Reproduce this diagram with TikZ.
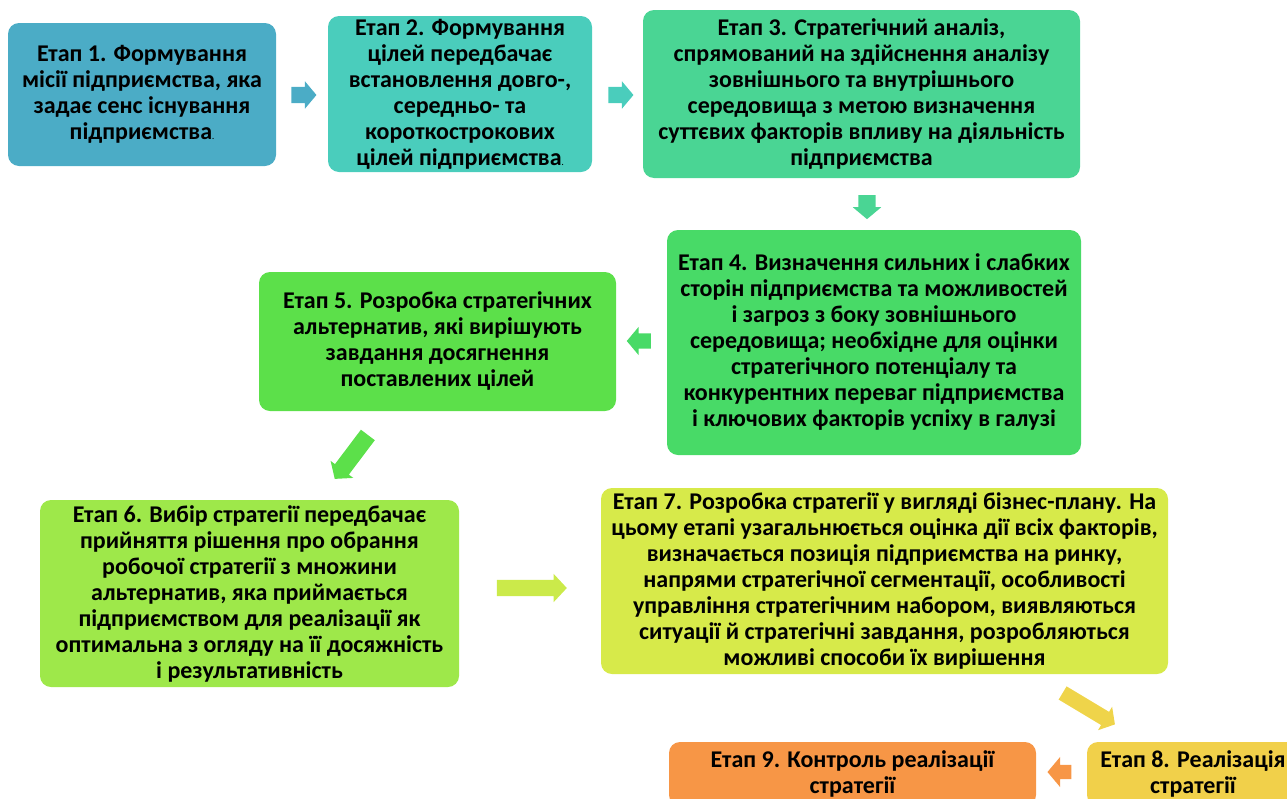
\documentclass[tikz,border=0pt]{standalone}
\usepackage{fontspec}
\setmainfont{Carlito}
\usetikzlibrary{shapes.arrows}
\definecolor{c1}{HTML}{4BACC6}
\definecolor{c2}{HTML}{4ACDBC}
\definecolor{c3}{HTML}{4AD594}
\definecolor{c4}{HTML}{48DA67}
\definecolor{c5}{HTML}{5CE04A}
\definecolor{c6}{HTML}{9EE84A}
\definecolor{c7}{HTML}{D7EA4A}
\definecolor{c8}{HTML}{F1D04A}
\definecolor{c9}{HTML}{F79646}
\definecolor{a67}{HTML}{CBEA4A}
\definecolor{a78}{HTML}{EFD44A}
\tikzset{
  stage/.style={rounded corners=11pt, align=center, inner sep=0pt,
    font=\fontsize{24}{26}\selectfont\bfseries, text=black},
  blockarrow/.style={single arrow, inner xsep=0pt, inner ysep=8pt, draw=none,
    single arrow head extend=5.5pt, single arrow tip angle=100}
}
\newcommand{\tinydot}{{\fontsize{8}{8}\selectfont .}}
\begin{document}
\begin{tikzpicture}[x=1pt,y=-1pt]
\useasboundingbox (0,0) rectangle (1287,798);
\clip (0,0) rectangle (1287,798);
% stages
\node[stage, fill=c1, minimum width=268pt, minimum height=143pt] (s1) at (142,94.5)
  {Етап 1. Формування\\місії підприємства, яка\\задає сенс існування\\підприємства\tinydot};
\node[stage, fill=c2, minimum width=264pt, minimum height=156pt] (s2) at (460,94)
  {Етап 2. Формування\\цілей передбачає\\встановлення довго-,\\середньо- та\\короткострокових\\цілей підприємства\tinydot};
\node[stage, fill=c3, minimum width=437pt, minimum height=168pt] (s3) at (861.5,94)
  {Етап 3. Стратегічний аналіз,\\спрямований на здійснення аналізу\\зовнішнього та внутрішнього\\середовища з метою визначення\\суттєвих факторів впливу на діяльність\\підприємства};
\node[stage, fill=c4, minimum width=414pt, minimum height=225pt] (s4) at (874,342.5)
  {Етап 4. Визначення сильних і слабких\\сторін підприємства та можливостей\\і загроз з боку зовнішнього\\середовища; необхідне для оцінки\\стратегічного потенціалу та\\конкурентних переваг підприємства\\і ключових факторів успіху в галузі};
\node[stage, fill=c5, minimum width=357pt, minimum height=139pt] (s5) at (437.5,341.5)
  {Етап 5. Розробка стратегічних\\альтернатив, які вирішують\\завдання досягнення\\поставлених цілей};
\node[stage, fill=c6, minimum width=419pt, minimum height=187pt] (s6) at (249.5,593.5)
  {Етап 6. Вибір стратегії передбачає\\прийняття рішення про обрання\\робочої стратегії з множини\\альтернатив, яка приймається\\підприємством для реалізації як\\оптимальна з огляду на її досяжність\\і результативність};
\node[stage, fill=c7, minimum width=567pt, minimum height=186pt] (s7) at (884.5,581)
  {Етап 7. Розробка стратегії у вигляді бізнес-плану. На\\цьому етапі узагальнюється оцінка дії всіх факторів,\\визначається позиція підприємства на ринку,\\напрями стратегічної сегментації, особливості\\управління стратегічним набором, виявляються\\ситуації й стратегічні завдання, розробляються\\можливі способи їх вирішення};
\node[stage, fill=c8, minimum width=212pt, minimum height=64pt] (s8) at (1193,774)
  {Етап 8. Реалізація\\стратегії};
\node[stage, fill=c9, minimum width=367pt, minimum height=64pt] (s9) at (852.5,774)
  {Етап 9. Контроль реалізації\\стратегії};
% block arrows
\node[blockarrow, fill=c1, minimum height=25pt] (a12) at (300.5,95) {};
\node[blockarrow, fill=c2, minimum height=25pt] (a23) at (617.5,95) {};
\node[blockarrow, fill=c3, minimum height=24pt, inner ysep=8.5pt, rotate=-90] (a34) at (867,203.5) {};
\node[blockarrow, fill=c4, minimum height=24pt, inner ysep=7.5pt, single arrow head extend=6.5pt, shape border rotate=180] (a45) at (642,341) {};
\node[blockarrow, fill=c5, minimum height=55pt, inner ysep=8.5pt, rotate=233] (a56) at (353.5,454) {};
\node[blockarrow, fill=a67, minimum height=70pt, single arrow head extend=6pt, single arrow tip angle=94] (a67) at (528,588) {};
\node[blockarrow, fill=a78, minimum height=61pt, inner ysep=7.5pt, single arrow head extend=6pt, rotate=-31] (a78) at (1086,707) {};
\node[blockarrow, fill=c9, minimum height=24pt, inner ysep=7pt, single arrow head extend=8pt, shape border rotate=180] (a89) at (1062.5,772) {};
\end{tikzpicture}
\end{document}
